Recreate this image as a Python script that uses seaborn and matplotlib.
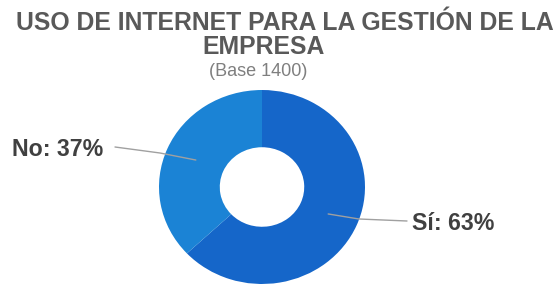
import numpy as np
import matplotlib
matplotlib.use("Agg")
import matplotlib.pyplot as plt
import seaborn as sns

categories = ["Sí", "No"]
values = [63, 37]
colors = ["#1566C9", "#1B83D5"]
title_line1 = "USO DE INTERNET PARA LA GESTIÓN DE LA"
title_line2 = "EMPRESA"
subtitle = "(Base 1400)"

sns.set_theme(style="white")
plt.rcParams['font.family'] = ['Liberation Sans', 'DejaVu Sans']

W, H = 558, 284
fig = plt.figure(figsize=(W / 100, H / 100), dpi=100)
ax = fig.add_axes([0, 0, 1, 1])

cx, cy, sx, sy = 262, 187, 103.0, 97.0

wedges, _ = ax.pie(values, colors=colors, startangle=90, counterclock=False,
                   radius=1.0, wedgeprops=dict(width=0.59, edgecolor="none"),
                   center=(0, 0), frame=False)
ax.axis("off")
ax.set_aspect("auto")
ax.set_xlim(-cx / sx, (W - cx) / sx)
ax.set_ylim(-(H - cy) / sy, cy / sy)


def to_data(px, py):
    return (px - cx) / sx, (cy - py) / sy


label_color = "#404040"
line_color = "#A0A0A0"
for w, cat, v in zip(wedges, categories, values):
    ang = np.deg2rad((w.theta1 + w.theta2) / 2)
    px, py = 0.7 * np.cos(ang), 0.7 * np.sin(ang)
    if np.cos(ang) >= 0:
        ex, ey = to_data(359, 219)
        tx, ty = to_data(407, 221)
        ax.plot([px, ex, tx], [py, ey, ty], color=line_color, lw=1.0)
        lx, ly = to_data(412, 223)
        ax.text(lx, ly, f"{cat}: {v}%", ha="left", va="center", fontsize=16.7,
                fontweight="bold", color=label_color)
    else:
        ex, ey = to_data(160, 153)
        tx, ty = to_data(115, 147)
        ax.plot([px, ex, tx], [py, ey, ty], color=line_color, lw=1.0)
        lx, ly = to_data(103, 149)
        ax.text(lx, ly, f"{cat}: {v}%", ha="right", va="center", fontsize=16.7,
                fontweight="bold", color=label_color)

fig.text(285 / W, 1 - 23 / H, title_line1, ha="center", va="center", fontsize=17.8,
         fontweight="bold", color="#595959")
fig.text(264 / W, 1 - 47 / H, title_line2, ha="center", va="center", fontsize=17.8,
         fontweight="bold", color="#595959")
fig.text(258 / W, 1 - 72 / H, subtitle, ha="center", va="center", fontsize=13,
         color="#7F7F7F")

fig.savefig("out.png", dpi=100)
